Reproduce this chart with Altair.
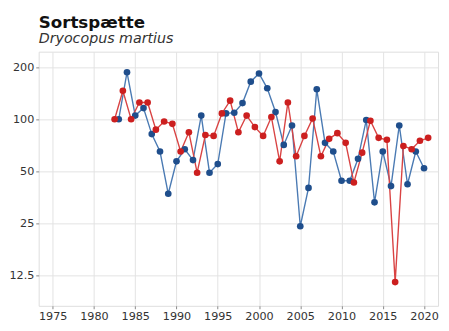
import altair as alt
import pandas as pd

blue_years = list(range(1983, 2021))
blue_values = [100, 187, 105, 116, 82, 65, 37, 57, 67, 58,
               105, 49, 55, 108, 109, 124, 165, 184, 151, 110,
               71, 92, 24, 40, 149, 73, 65, 44, 44, 59,
               99, 33, 65, 41, 92, 42, 65, 52]
red_seasons = list(range(1982, 2021))
red_values = [100, 146, 100, 125, 125, 87, 97, 94, 65, 84,
              49, 81, 80, 108, 128, 84, 105, 90, 80, 103,
              57, 125, 61, 80, 101, 61, 77, 83, 73, 43,
              64, 98, 78, 76, 11.4, 70, 67, 75, 78]
y_ticks = [12.5, 25, 50, 100, 200]
x_ticks = list(range(1975, 2021, 5))

blue_df = pd.DataFrame({"year": blue_years, "index": blue_values})
red_df = pd.DataFrame({"season": red_seasons, "index": red_values})

FONT = "DejaVu Sans"
BLUE_PT, BLUE_LN = "#1f4e8c", "#4a7ab3"
RED_PT, RED_LN = "#cc1f1f", "#d94343"

xs = alt.Scale(domain=[1973.3, 2021.7], nice=False, zero=False)
ys = alt.Scale(type="log", base=2, domain=[8.31, 246], nice=False)

xax = alt.Axis(values=x_ticks, format="d", title=None, grid=True, gridColor="#e2e2e2",
               tickSize=3, tickColor="#888", labelPadding=2, domain=False,
               labelFont=FONT, labelFontSize=11.4, labelColor="#333")
yax = alt.Axis(values=y_ticks, format="~g", title=None, grid=True, gridColor="#e2e2e2",
               tickSize=3, tickColor="#888", labelPadding=2, domain=False,
               labelFont=FONT, labelFontSize=11.4, labelColor="#333")

blue_x = alt.X("year:Q", scale=xs, axis=xax)
blue_y = alt.Y("index:Q", scale=ys, axis=yax)

blue_line = alt.Chart(blue_df).mark_line(color=BLUE_LN, strokeWidth=1.4).encode(x=blue_x, y=blue_y)
blue_pts = alt.Chart(blue_df).mark_circle(color=BLUE_PT, size=46, opacity=1).encode(x="year:Q", y="index:Q")

red_base = alt.Chart(red_df).transform_calculate(year="datum.season + 0.5")
red_line = red_base.mark_line(color=RED_LN, strokeWidth=1.4).encode(x="year:Q", y="index:Q")
red_pts = red_base.mark_circle(color=RED_PT, size=46, opacity=1).encode(x="year:Q", y="index:Q")

chart = alt.layer(blue_line, red_line, blue_pts, red_pts).properties(
    width=407, height=259,
    autosize=alt.AutoSizeParams(type="none"),
    padding={"left": 31.3, "top": 41.5, "right": 3, "bottom": 15},
    title=alt.TitleParams(
        text="Sortspætte", subtitle="Dryocopus martius",
        anchor="start", frame="group", offset=5,
        font=FONT, fontSize=17, fontWeight="bold", color="#111",
        subtitleFont=FONT, subtitleFontSize=14.5, subtitleFontStyle="italic",
        subtitleColor="#333", subtitlePadding=1,
    ),
).configure_view(stroke="#8a8a8a", strokeWidth=1).configure(background="white")

chart.save("out.html", embed_options={"renderer": "svg", "actions": False})
